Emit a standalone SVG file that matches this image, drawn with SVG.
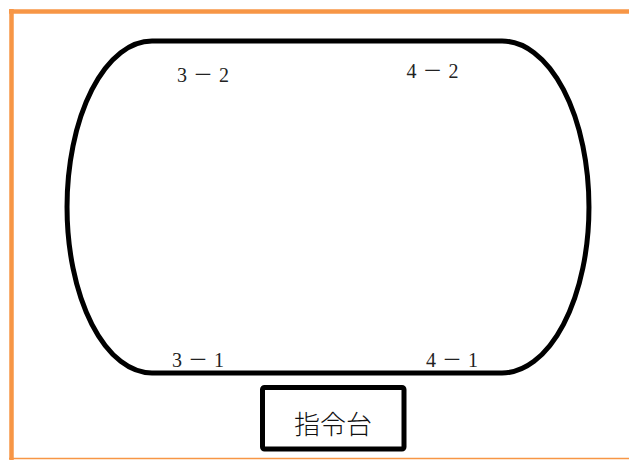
<svg xmlns="http://www.w3.org/2000/svg" width="629" height="460" viewBox="0 0 629 460">
<style>
.frame{stroke:#F79646;fill:none}
.track{fill:none;stroke:#000;stroke-width:5}
.lbl{font-family:"Liberation Serif","Noto Sans CJK JP",serif;font-size:20px;fill:#222;text-anchor:middle;letter-spacing:6px}
.box{fill:#fff;stroke:#000;stroke-width:5}
.boxt{font-family:"Noto Sans CJK JP",sans-serif;font-size:26px;font-weight:300;fill:#111;text-anchor:middle}
</style>
<rect width="629" height="460" fill="#fff"/>
<g id="frame">
<line class="frame" x1="9" y1="11.5" x2="629" y2="11.5" stroke-width="4.5"/>
<line class="frame" x1="11.5" y1="9" x2="11.5" y2="460" stroke-width="4.5"/>
<line class="frame" x1="9" y1="458.5" x2="629" y2="458.5" stroke-width="1.5"/>
</g>
<g id="connectors">
<path id="track" class="track" d="M152,41 L502,41 A87,166 0 0 1 502,373 L152,373 A85,166 0 0 1 152,41 Z"/>
</g>
<g id="n32"><text class="lbl" x="206" y="82">3－2</text></g>
<g id="n42"><text class="lbl" x="435.5" y="78">4－2</text></g>
<g id="n31"><text class="lbl" x="201" y="366.5">3－1</text></g>
<g id="n41"><text class="lbl" x="455" y="366.5">4－1</text></g>
<g id="console">
<rect class="box" x="262.5" y="387.5" width="141.5" height="61.5" rx="2"/>
<text class="boxt" x="333" y="434">指令台</text>
</g>
</svg>
